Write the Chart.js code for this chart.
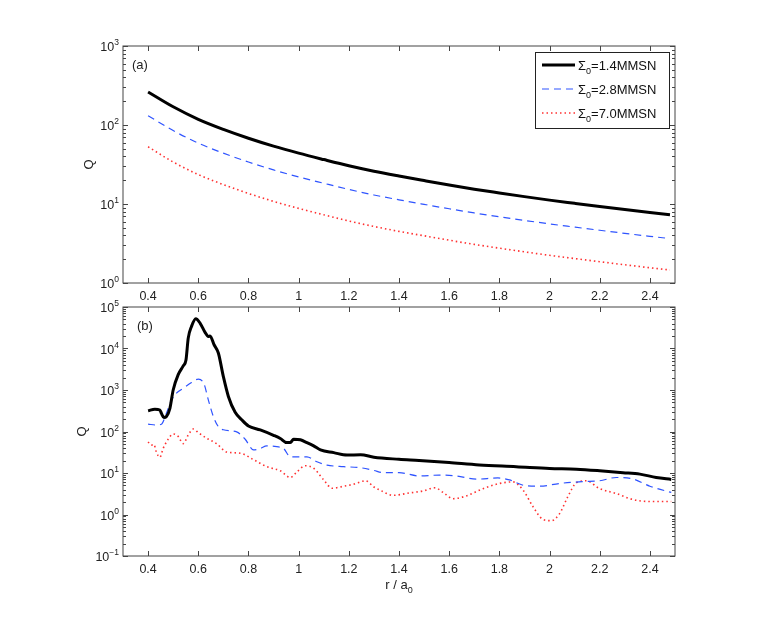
<!DOCTYPE html>
<html>
<head>
<meta charset="utf-8">
<script src="https://cdn.jsdelivr.net/npm/chart.js@4/dist/chart.umd.min.js"></script>
<style>
  body { margin: 0; background: #fff; }
  .wrap { position: relative; width: 763px; height: 625px; }
  canvas { position: absolute; left: 0; }
  #top { top: 0; }
  #bottom { top: 290px; }
</style>
</head>
<body>
<div class="wrap">
  <canvas id="top" width="763" height="305"></canvas>
  <canvas id="bottom" width="763" height="335"></canvas>
</div>
<script>
// x ticks shared by both panels
const xTicks = [0.4, 0.6, 0.8, 1.0, 1.2, 1.4, 1.6, 1.8, 2.0, 2.2, 2.4];
const yTicksTop = [1, 10, 100, 1000];
const yTicksBottom = [0.1, 1, 10, 100, 1000, 10000, 100000];
const seriesNames = ['Σ₀=1.4MMSN', 'Σ₀=2.8MMSN', 'Σ₀=7.0MMSN'];
const seriesValues = ['1.4MMSN', '2.8MMSN', '7.0MMSN'];

// panel (a)
const rTop = [0.4, 0.5, 0.6, 0.7, 0.8, 0.9, 1.0, 1.1, 1.2, 1.3, 1.4, 1.5, 1.6, 1.7, 1.8, 1.9, 2.0, 2.1, 2.2, 2.3, 2.4, 2.48];
const qTopBlack = [262, 170, 118, 88, 68, 54, 44, 36.5, 30.5, 26, 22.6, 19.8, 17.4, 15.4, 13.8, 12.4, 11.2, 10.2, 9.3, 8.5, 7.8, 7.3];
const qTopBlue = [131, 85, 59, 44, 34, 27, 22, 18.3, 15.3, 13, 11.3, 9.9, 8.7, 7.7, 6.9, 6.2, 5.6, 5.1, 4.65, 4.25, 3.9, 3.65];
const qTopRed = [53, 34, 23.6, 17.6, 13.6, 10.8, 8.8, 7.3, 6.1, 5.2, 4.5, 3.96, 3.48, 3.08, 2.76, 2.48, 2.24, 2.04, 1.86, 1.7, 1.56, 1.46];

// panel (b)
const rBlack = [0.40, 0.427, 0.447, 0.453, 0.463, 0.473, 0.487, 0.50, 0.52, 0.54, 0.551, 0.56, 0.573, 0.59, 0.607, 0.627, 0.64, 0.647, 0.663, 0.68, 0.70, 0.72, 0.747, 0.773, 0.80, 0.847, 0.90, 0.927, 0.953, 0.967, 0.98, 1.007, 1.033, 1.06, 1.087, 1.14, 1.193, 1.247, 1.30, 1.40, 1.48, 1.60, 1.72, 1.867, 2.00, 2.107, 2.20, 2.293, 2.36, 2.425, 2.485];
const qBlack = [316, 345, 330, 275, 217, 230, 363, 1000, 2340, 3800, 5300, 17800, 34000, 52000, 41000, 24500, 19500, 20000, 12300, 7800, 2100, 700, 290, 192, 136, 109, 81, 68, 54, 54, 65, 63, 54, 45, 36, 31, 27, 27.6, 24, 21.4, 20, 17.8, 15.6, 14.2, 12.9, 12.3, 11.3, 10.2, 9.4, 7.8, 7.0];
const rBlue = [0.40, 0.433, 0.453, 0.473, 0.493, 0.513, 0.54, 0.573, 0.60, 0.623, 0.64, 0.66, 0.68, 0.70, 0.753, 0.787, 0.82, 0.847, 0.873, 0.913, 0.94, 0.967, 0.993, 1.033, 1.073, 1.113, 1.18, 1.247, 1.30, 1.336, 1.40, 1.48, 1.56, 1.628, 1.708, 1.794, 1.84, 1.90, 1.96, 2.04, 2.133, 2.20, 2.266, 2.332, 2.40, 2.485];
const qBlue = [151, 143, 150, 275, 560, 840, 1100, 1510, 1830, 1400, 580, 230, 131, 110, 98, 65, 36, 39, 45, 43, 39, 24.6, 24.6, 24.6, 18.6, 15.5, 14.2, 13.4, 11.5, 10.2, 10.2, 8.5, 8.9, 8.5, 7.1, 7.6, 6.8, 5.0, 4.8, 5.6, 6.2, 6.5, 7.8, 7.2, 4.8, 3.4];
const rRed = [0.40, 0.413, 0.423, 0.433, 0.447, 0.46, 0.48, 0.50, 0.52, 0.54, 0.56, 0.58, 0.60, 0.633, 0.673, 0.713, 0.767, 0.82, 0.873, 0.927, 0.967, 0.993, 1.027, 1.06, 1.10, 1.133, 1.18, 1.22, 1.267, 1.30, 1.323, 1.376, 1.442, 1.496, 1.542, 1.582, 1.615, 1.668, 1.735, 1.801, 1.854, 1.894, 1.934, 1.974, 2.007, 2.04, 2.073, 2.107, 2.146, 2.20, 2.266, 2.332, 2.40, 2.485];
const qRed = [56, 47, 49, 32, 24, 39, 65, 87, 76, 51, 82, 115, 94, 69, 51, 32, 30, 21, 14.2, 11.3, 7.8, 10.6, 15, 13, 6.8, 4.3, 4.8, 5.4, 6.5, 4.6, 3.9, 2.9, 3.3, 3.7, 4.4, 3.2, 2.4, 2.8, 4.2, 5.6, 6.1, 3.9, 1.55, 0.76, 0.71, 1.05, 2.7, 5.8, 6.5, 4.2, 3.2, 2.3, 2.06, 2.06];

const FONT = '"Liberation Sans", Arial, sans-serif';
const AXIS = '#444';
const TEXT = '#222';
const styles = [
  { borderColor: '#000', borderWidth: 3, borderDash: [] },
  { borderColor: '#2f54ff', borderWidth: 1.2, borderDash: [7, 5] },
  { borderColor: '#ff3030', borderWidth: 1.6, borderDash: [1.5, 3] }
];

function pts(xs, ys) { return xs.map((x, i) => ({ x: x, y: ys[i] })); }

function makeSet(i, xs, ys) {
  return Object.assign({
    label: seriesNames[i],
    data: pts(xs, ys),
    pointRadius: 0,
    fill: false,
    cubicInterpolationMode: 'monotone'
  }, styles[i]);
}

// text with a small raised or lowered part: parts = [[text, size, dy], ...]
function drawParts(ctx, parts, x, y, align) {
  let w = 0;
  parts.forEach(p => { ctx.font = p[1] + 'px ' + FONT; w += ctx.measureText(p[0]).width; });
  let cx = align === 'right' ? x - w : (align === 'center' ? x - w / 2 : x);
  ctx.textAlign = 'left';
  parts.forEach(p => {
    ctx.font = p[1] + 'px ' + FONT;
    ctx.fillText(p[0], cx, y + p[2]);
    cx += ctx.measureText(p[0]).width;
  });
}

// box, inward ticks, minor log ticks, power-of-ten labels, panel label, legend
const boxTicks = {
  id: 'boxTicks',
  afterDraw(chart, args, opts) {
    const { ctx, chartArea: a, scales: { x, y } } = chart;
    ctx.save();
    ctx.strokeStyle = AXIS;
    ctx.lineWidth = 1;
    ctx.strokeRect(a.left, a.top, a.right - a.left, a.bottom - a.top);
    ctx.beginPath();
    xTicks.forEach(v => {
      const p = Math.round(x.getPixelForValue(v)) + 0.5;
      ctx.moveTo(p, a.bottom); ctx.lineTo(p, a.bottom - 5);
      ctx.moveTo(p, a.top); ctx.lineTo(p, a.top + 5);
    });
    const e0 = Math.round(Math.log10(y.min)), e1 = Math.round(Math.log10(y.max));
    for (let e = e0; e <= e1; e++) {
      for (let k = 1; k <= 9; k++) {
        const v = k * Math.pow(10, e);
        if (v > y.max * 1.0001) break;
        const p = Math.round(y.getPixelForValue(v)) + 0.5;
        const len = k === 1 ? 5 : 3;
        ctx.moveTo(a.left, p); ctx.lineTo(a.left + len, p);
        ctx.moveTo(a.right, p); ctx.lineTo(a.right - len, p);
      }
    }
    ctx.stroke();

    // y tick labels as 10 with a raised exponent
    ctx.fillStyle = TEXT;
    ctx.textBaseline = 'alphabetic';
    opts.yTicks.forEach(v => {
      const p = y.getPixelForValue(v);
      const ex = String(Math.round(Math.log10(v))).replace('-', '−');
      drawParts(ctx, [['10', 12.5, 0], [ex, 8.5, -6]], a.left - 4, p + 5, 'right');
    });

    // panel label
    ctx.font = '13px ' + FONT;
    ctx.fillText(opts.label, a.left + opts.labelDx, a.top + 23);

    // x axis title
    if (opts.xTitle) {
      drawParts(ctx, [['r / a', 13, 0], ['0', 9, 4]], (a.left + a.right) / 2, a.bottom + 33, 'center');
    }

    if (opts.legend) {
      const lx = a.right - 140, ly = a.top + 6, lw = 134, lh = 76;
      ctx.fillStyle = '#fff';
      ctx.fillRect(lx, ly, lw, lh);
      ctx.strokeStyle = '#222';
      ctx.strokeRect(lx + 0.5, ly + 0.5, lw, lh);
      chart.data.datasets.forEach((ds, i) => {
        const yy = ly + 13 + i * 24;
        ctx.beginPath();
        ctx.strokeStyle = ds.borderColor;
        ctx.lineWidth = ds.borderWidth;
        ctx.setLineDash(ds.borderDash);
        ctx.moveTo(lx + 7, yy); ctx.lineTo(lx + 40, yy);
        ctx.stroke();
        ctx.setLineDash([]);
        ctx.fillStyle = '#111';
        ctx.textBaseline = 'alphabetic';
        drawParts(ctx, [['Σ', 13, 0], ['0', 9, 4], ['=' + seriesValues[i], 13, 0]], lx + 43, yy + 5, 'left');
      });
    }
    ctx.restore();
  }
};

function xScale(height) {
  return {
    type: 'linear', min: 0.3, max: 2.5,
    afterBuildTicks: s => { s.ticks = xTicks.map(v => ({ value: v })); },
    afterFit: s => { s.height = height; },
    grid: { drawOnChartArea: false, drawTicks: false },
    border: { display: false },
    ticks: {
      padding: 6, color: TEXT, font: { family: FONT, size: 12.5 },
      maxRotation: 0,
      callback: v => String(+v.toFixed(1))
    }
  };
}

function yScale(min, max, ticks, width) {
  return {
    type: 'logarithmic', min: min, max: max,
    afterBuildTicks: s => { s.ticks = ticks.map(v => ({ value: v })); },
    afterFit: s => { s.width = width; },
    grid: { drawOnChartArea: false, drawTicks: false },
    border: { display: false },
    ticks: { display: false },
    title: { display: true, text: 'Q', color: TEXT, font: { family: FONT, size: 13 }, padding: { top: 4, bottom: 4 } }
  };
}

const common = {
  responsive: false,
  animation: false,
  plugins: { legend: { display: false }, tooltip: { enabled: false } }
};

new Chart(document.getElementById('top'), {
  type: 'line',
  data: { datasets: [makeSet(0, rTop, qTopBlack), makeSet(1, rTop, qTopBlue), makeSet(2, rTop, qTopRed)] },
  options: Object.assign({}, common, {
    layout: { padding: { left: 78, right: 88, top: 46, bottom: 0 } },
    scales: { x: xScale(22), y: yScale(1, 1000, yTicksTop, 45) },
    plugins: Object.assign({}, common.plugins, { boxTicks: { label: '(a)', labelDx: 9, legend: true, yTicks: yTicksTop, xTitle: false } })
  }),
  plugins: [boxTicks]
});

new Chart(document.getElementById('bottom'), {
  type: 'line',
  data: { datasets: [makeSet(0, rBlack, qBlack), makeSet(1, rBlue, qBlue), makeSet(2, rRed, qRed)] },
  options: Object.assign({}, common, {
    layout: { padding: { left: 71, right: 88, top: 17, bottom: 26 } },
    scales: { x: xScale(43), y: yScale(0.1, 100000, yTicksBottom, 52) },
    plugins: Object.assign({}, common.plugins, { boxTicks: { label: '(b)', labelDx: 14, legend: false, yTicks: yTicksBottom, xTitle: true } })
  }),
  plugins: [boxTicks]
});
</script>
</body>
</html>
